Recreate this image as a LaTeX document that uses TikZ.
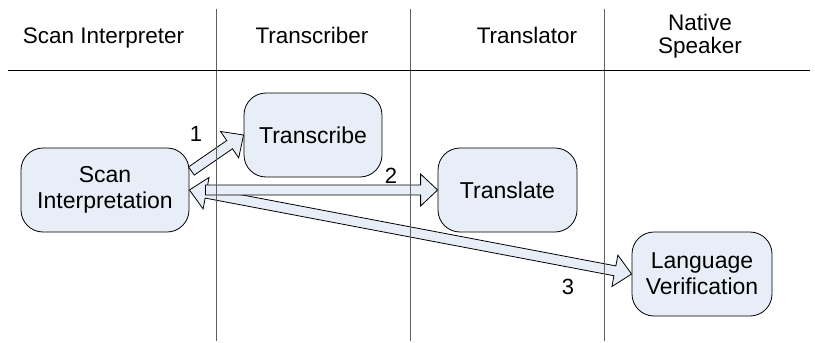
\documentclass[tikz,border=0pt]{standalone}
\usepackage{fontspec}
\setmainfont{Liberation Sans}
\usetikzlibrary{calc}
\definecolor{boxfill}{RGB}{232,238,247}
\definecolor{lanegray}{RGB}{96,96,96}
\tikzset{
  procbox/.style={draw=black, line width=0.8pt, fill=boxfill, rounded corners=22pt, minimum height=84pt, align=center, font=\fontsize{23}{26}\selectfont, inner sep=0pt},
  lanehead/.style={font=\fontsize{22.5}{23}\selectfont, inner sep=0pt, align=center},
  numlabel/.style={font=\fontsize{22}{24}\selectfont, inner sep=0pt},
  blockarr/.style={draw=black, line width=0.8pt, fill=boxfill, line join=miter},
  laneline/.style={draw=lanegray, line width=1pt},
  headline/.style={draw=black, line width=1pt}
}
\newcommand\blkarrow[2]{%
  \coordinate (ahd) at ($(#2)!17pt!(#1)$);
  \draw[blockarr] ($(#1)!5pt!90:(#2)$) -- ($(ahd)!5pt!90:(#2)$) -- ($(ahd)!16pt!90:(#2)$) -- (#2) -- ($(ahd)!16pt!-90:(#2)$) -- ($(ahd)!5pt!-90:(#2)$) -- ($(#1)!5pt!-90:(#2)$) -- cycle;}
\newcommand\dblkarrow[2]{%
  \coordinate (ahs) at ($(#1)!17pt!(#2)$);
  \coordinate (ahe) at ($(#2)!17pt!(#1)$);
  \draw[blockarr] (#1) -- ($(ahs)!16pt!90:(#2)$) -- ($(ahs)!5pt!90:(#2)$) -- ($(ahe)!5pt!90:(#2)$) -- ($(ahe)!16pt!90:(#2)$) -- (#2) -- ($(ahe)!16pt!-90:(#2)$) -- ($(ahe)!5pt!-90:(#2)$) -- ($(ahs)!5pt!-90:(#2)$) -- ($(ahs)!16pt!-90:(#2)$) -- cycle;}
\begin{document}
\begin{tikzpicture}[x=1pt,y=-1pt]
\useasboundingbox (0,0) rectangle (815,343);
% process boxes
\node[procbox, minimum width=168pt] (scan) at (105,190) {Scan\\Interpretation};
\node[procbox, minimum width=138pt] (transc) at (313,135) {Transcribe};
\node[procbox, minimum width=139pt] (transl) at (507.5,190) {Translate};
\node[procbox, minimum width=140pt] (langv) at (702,274) {Language\\Verification};
% lane headers
\node[lanehead, anchor=base] (hscan) at (103.5,43) {Scan Interpreter};
\node[lanehead, anchor=base] (htransc) at (312,43) {Transcriber};
\node[lanehead, anchor=base] (htransl) at (527,43) {Translator};
\node[lanehead] (hnative) at (700,36) {Native\\Speaker};
% block arrows
\coordinate (a1s) at ($(scan.east)+(2,-19)$);
\coordinate (a2s) at ($(scan.east)+(16,0)$);
\dblkarrow{scan.east}{langv.west}
\blkarrow{a2s}{transl.west}
\blkarrow{a1s}{transc.west}
% lane lines
\draw[laneline] (216,9) -- (216,341);
\draw[laneline] (410,9) -- (410,341);
\draw[laneline] (604,9) -- (604,341);
\draw[headline] (8,70) -- (810,70);
% arrow numbers
\node[numlabel] (n1) at (196,134) {1};
\node[numlabel] (n2) at (391,176) {2};
\node[numlabel] (n3) at (568,287) {3};
\end{tikzpicture}
\end{document}
